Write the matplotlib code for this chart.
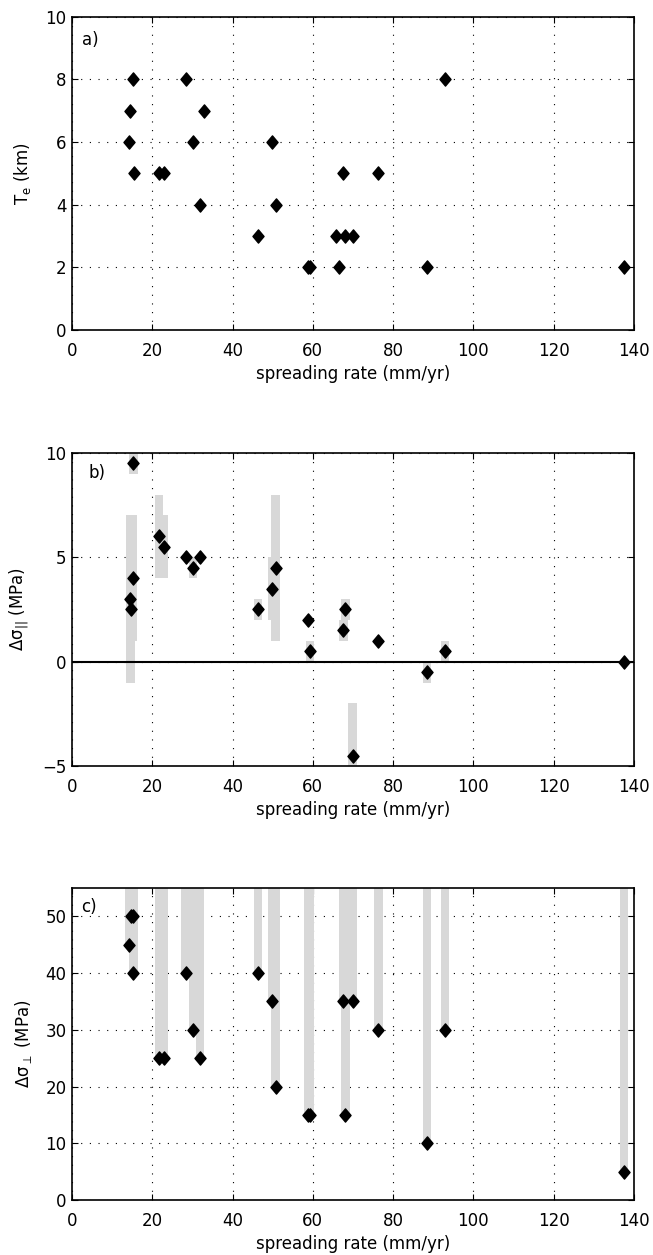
import matplotlib
matplotlib.use("Agg")
import matplotlib.pyplot as plt
from matplotlib.path import Path

plt.rcParams['font.family'] = ['DejaVu Sans']
plt.rcParams['mathtext.fontset'] = 'dejavusans'
plt.rcParams['mathtext.default'] = 'regular'

# (a) elastic thickness versus spreading rate
rate_a = [14.3, 14.4, 15.3, 15.4, 21.7, 22.8, 28.3, 30.2, 31.9, 33.0, 46.4, 49.8,
          50.7, 58.9, 59.3, 65.8, 66.6, 67.6, 68.1, 69.9, 76.3, 88.5, 92.9, 137.5]
te_km = [6, 7, 8, 5, 5, 5, 8, 6, 4, 7, 3, 6,
         4, 2, 2, 3, 2, 5, 3, 3, 5, 2, 8, 2]

# (b) ridge-parallel stress difference with its admissible range
rate_b = [14.4, 14.6, 15.1, 15.3, 21.7, 22.8, 28.3, 30.2, 31.9, 46.4, 49.8,
          50.7, 58.9, 59.3, 67.6, 68.1, 69.9, 76.3, 88.5, 92.9, 137.5]
dsig_par = [3, 2.5, 4, 9.5, 6, 5.5, 5, 4.5, 5, 2.5, 3.5,
            4.5, 2, 0.5, 1.5, 2.5, -4.5, 1, -0.5, 0.5, 0]
par_low = [3, -1, 1, 9, 4, 4, 5, 4, 5, 2, 2,
           1, 2, 0, 1, 2, -5, 1, -1, 0, 0]
par_high = [3, 7, 7, 10, 8, 7, 5, 5, 5, 3, 5,
            8, 2, 1, 2, 3, -2, 1, 0, 1, 0]

# (c) ridge-perpendicular stress difference (lower bounds, open upward)
rate_c = [14.3, 14.6, 15.1, 15.3, 21.7, 22.8, 28.3, 30.2, 31.9, 46.4, 49.8,
          50.7, 58.9, 59.3, 67.6, 68.1, 69.9, 76.3, 88.5, 92.9, 137.5]
dsig_perp = [45, 50, 50, 40, 25, 25, 40, 30, 25, 40, 35,
             20, 15, 15, 35, 15, 35, 30, 10, 30, 5]
perp_high = [60] * len(rate_c)

x_ticks = [0, 20, 40, 60, 80, 100, 120, 140]

diamond = Path([(0, 0.5), (0.42, 0), (0, -0.5), (-0.42, 0), (0, 0.5)],
               [Path.MOVETO, Path.LINETO, Path.LINETO, Path.LINETO, Path.CLOSEPOLY])
range_color = '#d8d8d8'
bar_w = 2.1
fs = 12

fig = plt.figure(figsize=(6.53, 12.55), dpi=100)
left, width = 0.1103, 0.8606
ax_a = fig.add_axes([left, 0.7371, width, 0.2496])
ax_b = fig.add_axes([left, 0.3896, width, 0.2496])
ax_c = fig.add_axes([left, 0.0438, width, 0.2486])


def style(ax, yticks, ylim):
    ax.set_xlim(0, 140)
    ax.set_ylim(*ylim)
    ax.set_xticks(x_ticks)
    ax.set_yticks(yticks)
    ax.set_axisbelow(True)
    ax.grid(True, color='black', linestyle=(0, (1, 6.8)), linewidth=0.8)
    ax.tick_params(direction='in', top=True, right=True, length=4.5, width=0.8,
                   labelsize=fs)
    ax.tick_params(axis='x', pad=8.5)
    ax.tick_params(axis='y', pad=4)
    for s in ax.spines.values():
        s.set_linewidth(1.2)
    ax.set_xlabel('spreading rate (mm/yr)', fontsize=fs, labelpad=3.5)


def markers(ax, x, y):
    ax.plot(x, y, linestyle='none', marker=diamond, markersize=9.5,
            color='black', zorder=4, clip_on=False)


# (a)
style(ax_a, range(0, 11, 2), (0, 10))
markers(ax_a, rate_a, te_km)
ax_a.set_ylabel('T$_{e}$ (km)', fontsize=fs, labelpad=9)
ax_a.text(0.017, 0.955, 'a)', transform=ax_a.transAxes, fontsize=fs,
          va='top', ha='left')

# (b)
style(ax_b, [-5, 0, 5, 10], (-5, 10))
ax_b.bar(rate_b, [h - l for h, l in zip(par_high, par_low)], bottom=par_low,
         width=bar_w, color=range_color, linewidth=0, zorder=2)
ax_b.axhline(0, color='black', linewidth=1.5, zorder=3)
markers(ax_b, rate_b, dsig_par)
ax_b.set_ylabel(r'$\Delta\sigma_{||}$ (MPa)', fontsize=fs, labelpad=8)
ax_b.text(0.03, 0.965, 'b)', transform=ax_b.transAxes, fontsize=fs,
          va='top', ha='left')

# (c)
style(ax_c, range(0, 51, 10), (0, 55))
ax_c.bar(rate_c, [h - l for h, l in zip(perp_high, dsig_perp)], bottom=dsig_perp,
         width=bar_w, color=range_color, linewidth=0, zorder=2)
markers(ax_c, rate_c, dsig_perp)
ax_c.set_ylabel(r'$\Delta\sigma_{\perp}$ (MPa)', fontsize=fs, labelpad=8)
ax_c.text(0.017, 0.968, 'c)', transform=ax_c.transAxes, fontsize=fs,
          va='top', ha='left')

fig.savefig('out.png', dpi=100)
